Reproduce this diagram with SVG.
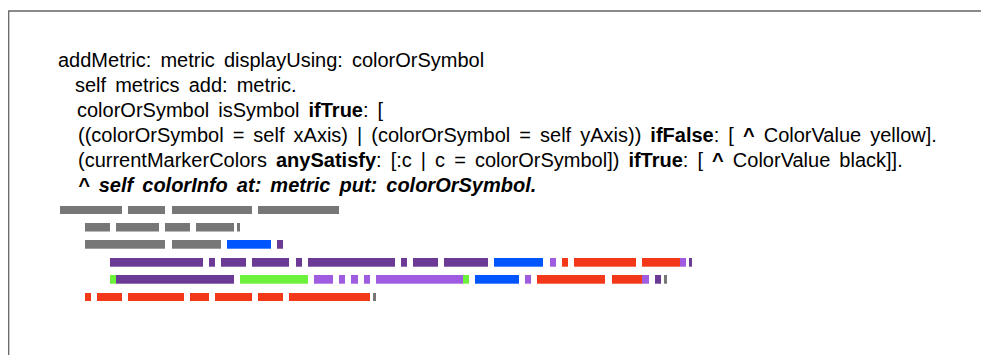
<svg xmlns="http://www.w3.org/2000/svg" width="981" height="355" viewBox="0 0 981 355">
<style>
.code{font-family:"Liberation Sans",Arial,Helvetica,sans-serif;font-size:20px;fill:#000;word-spacing:3.5px}
.b{font-weight:bold}
.bi{font-weight:bold;font-style:italic}
.g{fill:#777777}
.bl{fill:#0055FF}
.pu{fill:#6A3A94}
.lp{fill:#A05CE0}
.gr{fill:#6CF23A}
.rd{fill:#F23818}
</style>
<rect width="981" height="355" fill="#ffffff"/>
<g id="frame"><path d="M8.7 355 V11 H981" fill="none" stroke="#666666" stroke-width="1.3"/></g>
<g id="code" class="code">
<text x="58" y="67">addMetric: metric displayUsing: colorOrSymbol</text>
<text x="75" y="92">self metrics add: metric.</text>
<text x="77" y="117">colorOrSymbol isSymbol <tspan class="b">ifTrue</tspan>: [</text>
<text x="78" y="142">((colorOrSymbol = self xAxis) | (colorOrSymbol = self yAxis)) <tspan class="b">ifFalse</tspan>: [ <tspan class="b">^</tspan> ColorValue yellow].</text>
<text x="78" y="167">(currentMarkerColors <tspan class="b">anySatisfy</tspan>: [:c | c = colorOrSymbol]) <tspan class="b">ifTrue</tspan>: [ <tspan class="b">^</tspan> ColorValue black]].</text>
<text x="78" y="192" class="bi">^ self colorInfo at: metric put: colorOrSymbol.</text>
</g>
<g id="minimap">
<g id="row1">
<rect class="g" x="60" y="206" width="62" height="8"/>
<rect class="g" x="128" y="206" width="37" height="8"/>
<rect class="g" x="172" y="206" width="80" height="8"/>
<rect class="g" x="258" y="206" width="81" height="8"/>
</g>
<g id="row2">
<rect class="g" x="85" y="223" width="25" height="8.5"/>
<rect class="g" x="116" y="223" width="43" height="8.5"/>
<rect class="g" x="165" y="223" width="25" height="8.5"/>
<rect class="g" x="196" y="223" width="38" height="8.5"/>
<rect class="g" x="237" y="223" width="3" height="8.5"/>
</g>
<g id="row3">
<rect class="g" x="85" y="240" width="80" height="8.7"/>
<rect class="g" x="172" y="240" width="49" height="8.7"/>
<rect class="bl" x="227" y="240" width="44" height="8.7"/>
<rect class="pu" x="277" y="240" width="6" height="8.7"/>
</g>
<g id="row4">
<rect class="pu" x="110" y="258" width="93" height="8.7"/>
<rect class="pu" x="209" y="258" width="6" height="8.7"/>
<rect class="pu" x="221" y="258" width="25" height="8.7"/>
<rect class="pu" x="252" y="258" width="37" height="8.7"/>
<rect class="pu" x="296" y="258" width="6" height="8.7"/>
<rect class="pu" x="308" y="258" width="87" height="8.7"/>
<rect class="pu" x="401" y="258" width="6" height="8.7"/>
<rect class="pu" x="413" y="258" width="25" height="8.7"/>
<rect class="pu" x="444" y="258" width="44" height="8.7"/>
<rect class="bl" x="494" y="258" width="49" height="8.7"/>
<rect class="lp" x="550" y="258" width="6" height="8.7"/>
<rect class="rd" x="562" y="258" width="6" height="8.7"/>
<rect class="rd" x="574" y="258" width="62" height="8.7"/>
<rect class="rd" x="642" y="258" width="38" height="8.7"/>
<rect class="lp" x="680" y="258" width="6" height="8.7"/>
<rect class="pu" x="689" y="258" width="3" height="8.7"/>
</g>
<g id="row5">
<rect class="gr" x="110" y="275" width="6" height="8.7"/>
<rect class="pu" x="116" y="275" width="118" height="8.7"/>
<rect class="gr" x="240" y="275" width="68" height="8.7"/>
<rect class="lp" x="314" y="275" width="19" height="8.7"/>
<rect class="lp" x="339" y="275" width="6" height="8.7"/>
<rect class="lp" x="351" y="275" width="7" height="8.7"/>
<rect class="lp" x="364" y="275" width="6" height="8.7"/>
<rect class="lp" x="376" y="275" width="87" height="8.7"/>
<rect class="gr" x="463" y="275" width="6" height="8.7"/>
<rect class="bl" x="475" y="275" width="44" height="8.7"/>
<rect class="lp" x="525" y="275" width="6" height="8.7"/>
<rect class="rd" x="537" y="275" width="68" height="8.7"/>
<rect class="rd" x="612" y="275" width="30" height="8.7"/>
<rect class="lp" x="642" y="275" width="7" height="8.7"/>
<rect class="pu" x="655" y="275" width="6" height="8.7"/>
<rect class="g" x="664" y="275" width="3" height="8.7"/>
</g>
<g id="row6">
<rect class="rd" x="85" y="293" width="6" height="8"/>
<rect class="rd" x="97" y="293" width="25" height="8"/>
<rect class="rd" x="128" y="293" width="56" height="8"/>
<rect class="rd" x="190" y="293" width="19" height="8"/>
<rect class="rd" x="215" y="293" width="37" height="8"/>
<rect class="rd" x="258" y="293" width="25" height="8"/>
<rect class="rd" x="289" y="293" width="81" height="8"/>
<rect class="g" x="373" y="293" width="3" height="8"/>
</g>
</g>
</svg>
